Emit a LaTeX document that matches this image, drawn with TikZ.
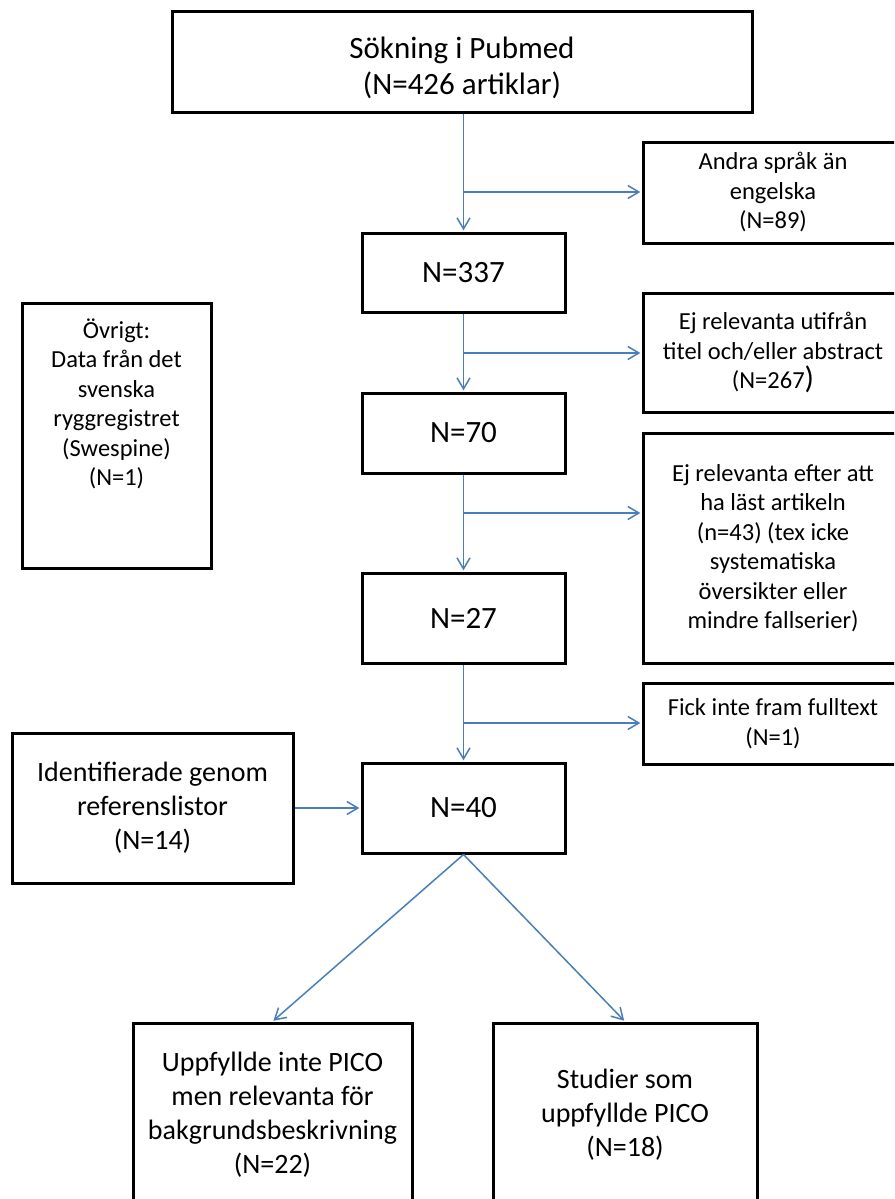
\documentclass[tikz,border=0pt]{standalone}
\usepackage{fontspec}
\setmainfont{Carlito}
\usetikzlibrary{arrows.meta}
\definecolor{arrowblue}{RGB}{74,126,187}
\tikzset{
  box/.style={draw=black, line width=3pt, rectangle, inner sep=0pt, align=center, text=black},
  lbl/.style={inner sep=0pt, align=center, text=black},
  big/.style={font=\fontsize{31}{36}\selectfont},
  mid/.style={font=\fontsize{28}{34}\selectfont},
  small/.style={font=\fontsize{24.5}{29.5}\selectfont},
  flow/.style={draw=arrowblue, line width=1.5pt, shorten >=1.2pt,
    -{Straight Barb[length=11pt,width=13pt,line width=1.5pt]}},
}
\begin{document}
\begin{tikzpicture}[x=1pt,y=-1pt]
\useasboundingbox (0,0) rectangle (894,1199);
\clip (0,0) rectangle (894,1199);
\fill[white] (0,0) rectangle (894,1199);

% main column
\node[box, minimum width=580pt, minimum height=100pt] (top) at (462,62) {};
\node[lbl, big] (toptext) at (462,68) {Sökning i Pubmed\\(N=426 artiklar)};
\node[box, big, minimum width=203pt, minimum height=79pt] (n337) at (463.5,272.5) {N=337};
\node[box, big, minimum width=203pt, minimum height=80pt] (n70) at (463.5,433) {N=70};
\node[box, big, minimum width=203pt, minimum height=90pt] (n27) at (463.5,618) {N=27};
\node[box, big, minimum width=203pt, minimum height=90pt] (n40) at (463.5,808) {N=40};

% side boxes right
\node[box, small, minimum width=260pt, minimum height=101pt] (andra) at (773,192.5)
  {Andra språk än\\engelska\\(N=89)};
\node[box, small, minimum width=260pt, minimum height=119pt] (ej1) at (773,352.5)
  {Ej relevanta utifrån\\titel och/eller abstract\\(N=267{\fontsize{31}{31}\selectfont )}};
\node[box, small, minimum width=260pt, minimum height=230pt] (ej2) at (773,548)
  {Ej relevanta efter att\\ha läst artikeln\\(n=43) (tex icke\\systematiska\\översikter eller\\mindre fallserier)};
\node[box, small, minimum width=260pt, minimum height=81pt] (fick) at (773,723.5)
  {Fick inte fram fulltext\\(N=1)};

% left boxes
\node[box, minimum width=189pt, minimum height=265pt] (ovr) at (116.5,435.5) {};
\node[lbl, small] (ovrtext) at (116.5,404)
  {Övrigt:\\Data från det\\svenska\\ryggregistret\\(Swespine)\\(N=1)};
\node[box, mid, minimum width=281pt, minimum height=150pt] (ident) at (152.5,808)
  {Identifierade genom\\referenslistor\\(N=14)};

% bottom boxes
\node[box, mid, minimum width=279pt, minimum height=184pt] (bl) at (272.5,1115)
  {Uppfyllde inte PICO\\men relevanta för\\bakgrundsbeskrivning\\(N=22)};
\node[box, mid, minimum width=264pt, minimum height=184pt] (br) at (625,1115)
  {Studier som\\uppfyllde PICO\\(N=18)};

% branch points
\coordinate (b1) at (463.5,192);
\coordinate (b2) at (463.5,353);
\coordinate (b3) at (463.5,513);
\coordinate (b4) at (463.5,723);

% connectors
\draw[flow] (n337.north |- top.south) -- (n337.north);
\draw[flow] (b1) -- (b1 -| andra.west);
\draw[flow] (n337.south) -- (n70.north);
\draw[flow] (b2) -- (b2 -| ej1.west);
\draw[flow] (n70.south) -- (n27.north);
\draw[flow] (b3) -- (b3 -| ej2.west);
\draw[flow] (n27.south) -- (n40.north);
\draw[flow] (b4) -- (b4 -| fick.west);
\draw[flow] (ident.east) -- (n40.west);
\draw[flow] (n40.south) -- (bl.north);
\draw[flow] (n40.south) -- (br.north);
\end{tikzpicture}
\end{document}
